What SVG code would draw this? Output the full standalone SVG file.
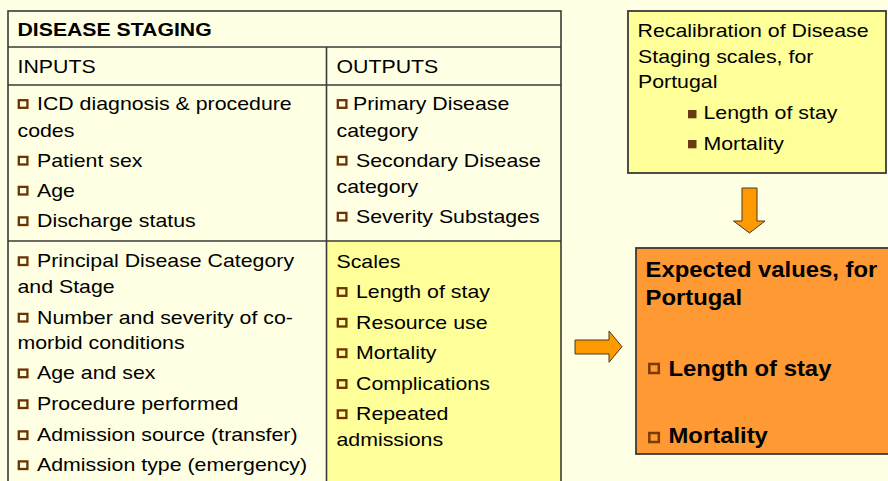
<svg xmlns="http://www.w3.org/2000/svg" width="888" height="481" viewBox="0 0 888 481">
<style>
  .t { font-family: "Liberation Sans", Arial, sans-serif; font-size: 18px; fill: #000; }
  .b { font-weight: bold; }
  .big { font-family: "Liberation Sans", Arial, sans-serif; font-size: 22.5px; font-weight: bold; fill: #000; }
  .line { stroke: #3a3a3a; stroke-width: 1.6; fill: none; }
  .hb { fill: none; stroke: #6B3300; stroke-width: 2.3; }
  .hbo { fill: none; stroke: #7A3A00; stroke-width: 2.5; }
  .fb { fill: #6B3A10; }
  .arrow { fill: #FF9900; stroke: #4a3a20; stroke-width: 1; }
</style>
<rect x="0" y="0" width="888" height="481" fill="#FFFFE3"/>

<g id="disease-staging">
  <rect x="326.5" y="241" width="234.5" height="245" fill="#FFFF99"/>
  <rect class="line" x="8" y="11" width="553" height="480"/>
  <line class="line" x1="8" y1="47" x2="561" y2="47"/>
  <line class="line" x1="8" y1="85" x2="561" y2="85"/>
  <line class="line" x1="8" y1="241" x2="561" y2="241"/>
  <line class="line" x1="326.5" y1="47" x2="326.5" y2="481"/>

  <text class="t b" transform="translate(17.5,36) scale(1.18,1)">DISEASE STAGING</text>
  <text class="t" transform="translate(17.5,73) scale(1.185,1)">INPUTS</text>
  <text class="t" transform="translate(336.5,73) scale(1.185,1)">OUTPUTS</text>

  <!-- inputs -->
  <rect class="hb" x="18.8" y="100.2" width="8.6" height="7.6"/>
  <text class="t" transform="translate(37,110) scale(1.185,1)">ICD diagnosis &amp; procedure</text>
  <text class="t" transform="translate(17.5,136.5) scale(1.185,1)">codes</text>
  <rect class="hb" x="18.8" y="156.9" width="8.6" height="7.6"/>
  <text class="t" transform="translate(37,166.7) scale(1.185,1)">Patient sex</text>
  <rect class="hb" x="18.8" y="186.9" width="8.6" height="7.6"/>
  <text class="t" transform="translate(37,196.7) scale(1.185,1)">Age</text>
  <rect class="hb" x="18.8" y="217.4" width="8.6" height="7.6"/>
  <text class="t" transform="translate(37,227.2) scale(1.185,1)">Discharge status</text>

  <!-- outputs -->
  <rect class="hb" x="337.8" y="100.2" width="8.6" height="7.6"/>
  <text class="t" transform="translate(353,110) scale(1.185,1)">Primary Disease</text>
  <text class="t" transform="translate(336.5,136.5) scale(1.185,1)">category</text>
  <rect class="hb" x="337.8" y="156.9" width="8.6" height="7.6"/>
  <text class="t" transform="translate(356,166.7) scale(1.185,1)">Secondary Disease</text>
  <text class="t" transform="translate(336.5,193) scale(1.185,1)">category</text>
  <rect class="hb" x="337.8" y="212.9" width="8.6" height="7.6"/>
  <text class="t" transform="translate(356,222.7) scale(1.185,1)">Severity Substages</text>

  <!-- lower left -->
  <rect class="hb" x="18.8" y="257.4" width="8.6" height="7.6"/>
  <text class="t" transform="translate(37,267.2) scale(1.185,1)">Principal Disease Category</text>
  <text class="t" transform="translate(17.5,293) scale(1.185,1)">and Stage</text>
  <rect class="hb" x="18.8" y="313.9" width="8.6" height="7.6"/>
  <text class="t" transform="translate(37,323.7) scale(1.185,1)">Number and severity of co-</text>
  <text class="t" transform="translate(17.5,349) scale(1.185,1)">morbid conditions</text>
  <rect class="hb" x="18.8" y="369.6" width="8.6" height="7.6"/>
  <text class="t" transform="translate(37,379.4) scale(1.185,1)">Age and sex</text>
  <rect class="hb" x="18.8" y="400.4" width="8.6" height="7.6"/>
  <text class="t" transform="translate(37,410.2) scale(1.185,1)">Procedure performed</text>
  <rect class="hb" x="18.8" y="431.4" width="8.6" height="7.6"/>
  <text class="t" transform="translate(37,441.2) scale(1.185,1)">Admission source (transfer)</text>
  <rect class="hb" x="18.8" y="461.4" width="8.6" height="7.6"/>
  <text class="t" transform="translate(37,471.2) scale(1.185,1)">Admission type (emergency)</text>

  <!-- lower right -->
  <text class="t" transform="translate(336.5,267.5) scale(1.185,1)">Scales</text>
  <rect class="hb" x="337.8" y="288.2" width="8.6" height="7.6"/>
  <text class="t" transform="translate(356,298) scale(1.185,1)">Length of stay</text>
  <rect class="hb" x="337.8" y="318.9" width="8.6" height="7.6"/>
  <text class="t" transform="translate(356,328.7) scale(1.185,1)">Resource use</text>
  <rect class="hb" x="337.8" y="349.4" width="8.6" height="7.6"/>
  <text class="t" transform="translate(356,359.2) scale(1.185,1)">Mortality</text>
  <rect class="hb" x="337.8" y="380.2" width="8.6" height="7.6"/>
  <text class="t" transform="translate(356,390) scale(1.185,1)">Complications</text>
  <rect class="hb" x="337.8" y="410.4" width="8.6" height="7.6"/>
  <text class="t" transform="translate(356,420.2) scale(1.185,1)">Repeated</text>
  <text class="t" transform="translate(336.5,445.5) scale(1.185,1)">admissions</text>
</g>

<g id="recalibration">
  <rect x="628" y="11" width="258" height="162" fill="#FFFF99" stroke="#3a3a3a" stroke-width="1.8"/>
  <text class="t" transform="translate(637.5,36.7) scale(1.185,1)">Recalibration of Disease</text>
  <text class="t" transform="translate(638,62.5) scale(1.185,1)">Staging scales, for</text>
  <text class="t" transform="translate(638,88.3) scale(1.185,1)">Portugal</text>
  <rect class="fb" x="688" y="110" width="8.5" height="8.3"/>
  <text class="t" transform="translate(703.5,119.3) scale(1.185,1)">Length of stay</text>
  <rect class="fb" x="688" y="140" width="8.5" height="8.3"/>
  <text class="t" transform="translate(703.5,149.5) scale(1.185,1)">Mortality</text>
</g>

<g id="expected-values">
  <rect x="636" y="248" width="260" height="206" fill="#FF9933" stroke="#3a3a3a" stroke-width="1.8"/>
  <text class="big" transform="translate(645.5,276.7) scale(1.06,1)">Expected values, for</text>
  <text class="big" transform="translate(645.5,305) scale(1.06,1)">Portugal</text>
  <rect class="hbo" x="649.3" y="364" width="9.5" height="9"/>
  <text class="big" transform="translate(668.5,375.7) scale(1.06,1)">Length of stay</text>
  <rect class="hbo" x="649.3" y="433" width="9.5" height="9"/>
  <text class="big" transform="translate(668.5,443.3) scale(1.06,1)">Mortality</text>
</g>

<g id="connectors">
  <polygon class="arrow" points="742,188 757,188 757,221 765,221 749.5,233 733.5,221 742,221"/>
  <polygon class="arrow" points="575,340 609,340 609,331 622,346.7 609,362.3 609,354 575,354"/>
</g>
</svg>
